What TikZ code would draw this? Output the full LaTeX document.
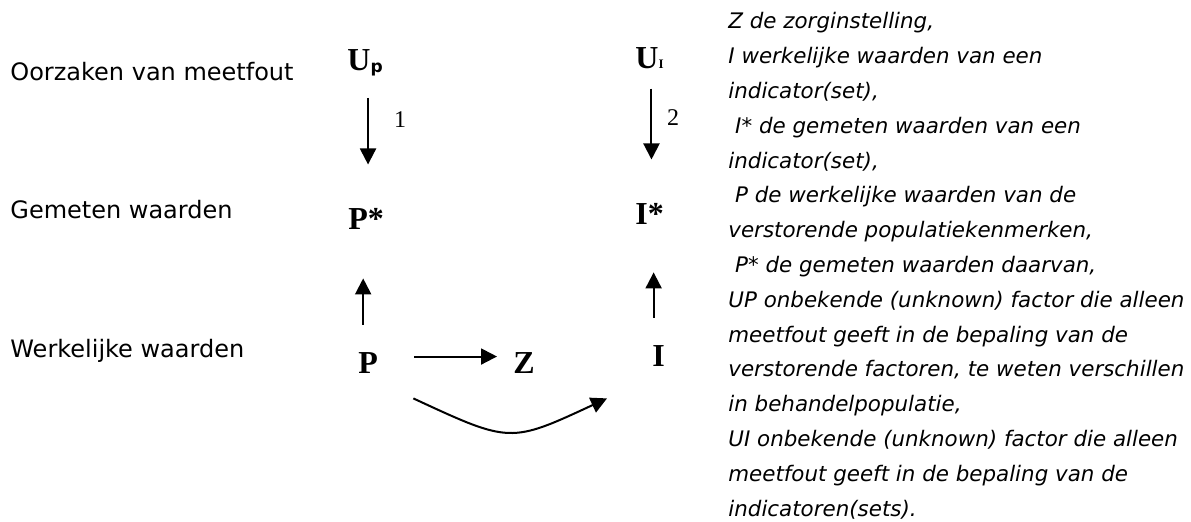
\documentclass[tikz,border=0pt]{standalone}
\usepackage{fontspec}
\setmainfont{Liberation Serif}
\setsansfont{DejaVu Sans}
\usetikzlibrary{arrows.meta}

\tikzset{
    var/.style={font=\fontsize{16}{18}\selectfont\bfseries, inner sep=0pt, anchor=base west},
    rij/.style={font=\sffamily\fontsize{12}{14}\selectfont, inner sep=0pt, anchor=base west},
    nummer/.style={font=\fontsize{12}{14}\selectfont, inner sep=0pt},
    uitleg/.style={font=\sffamily\itshape\fontsize{10.7}{17.4}\selectfont, inner sep=0pt, anchor=base west, align=left},
    pijl/.style={line width=1pt, -{Triangle[width=8pt,length=8pt]}},
}

% kleine indices bij de U's
\newcommand{\idxP}{\raisebox{-1pt}{\sffamily\fontsize{8.5}{9}\selectfont p}}
\newcommand{\idxI}{\fontsize{6.5}{7}\selectfont I}

\begin{document}
\begin{tikzpicture}[x=0.5pt, y=-0.5pt]
    \useasboundingbox (0,0) rectangle (1191,521);

    % rijen
    \node[rij] (oorzaken) at (10,80) {Oorzaken van meetfout};
    \node[rij] (gemeten) at (10,218) {Gemeten waarden};
    \node[rij] (werkelijk) at (10,357) {Werkelijke waarden};

    % variabelen
    \node[var] (Up) at (347,70) {U\idxP};
    \node[var] (Pster) at (348,229) {P*};
    \node[var] (P) at (358,373) {P};
    \node[var] (Z) at (513,373) {Z};
    \node[var] (UI) at (635,68) {U\idxI};
    \node[var] (Ister) at (635,224) {I*};
    \node[var] (I) at (652,366) {I};

    \node[nummer] (een) at (400,120) {1};
    \node[nummer] (twee) at (673,118) {2};

    % pijlen
    \draw[pijl, shorten <=11pt, shorten >=21.5pt] ([xshift=1.5pt]Up.south) -- ([xshift=1.5pt]Up.south |- Pster.north);
    \draw[pijl, shorten <=13.5pt, shorten >=24.5pt] ([xshift=-2.5pt]P.north) -- ([xshift=-2.5pt]P.north |- Pster.south);
    \draw[pijl, shorten <=10pt, shorten >=21.5pt] ([xshift=1pt]UI.south) -- ([xshift=1pt]UI.south |- Ister.north);
    \draw[pijl, shorten <=13.5pt, shorten >=24pt] ([xshift=-2.5pt]I.north) -- ([xshift=-2.5pt]I.north |- Ister.south);
    \draw[pijl, shorten <=18pt, shorten >=8pt] ([yshift=3pt]P.east) -- ([yshift=3pt]P.east -| Z.west);
    \draw[pijl] ([xshift=17.5pt,yshift=-12.5pt]P.south east)
        .. controls +(97,45) and +(-97,45) .. ([xshift=-22.5pt,yshift=-16pt]I.south west);

    % verklaring (basislijn van de laatste regel)
    \node[uitleg] (legenda) at (728,516) {Z de zorginstelling,\\
        I werkelijke waarden van een\\
        indicator(set),\\
        \ I* de gemeten waarden van een\\
        indicator(set),\\
        \ P de werkelijke waarden van de\\
        verstorende populatiekenmerken,\\
        \ P* de gemeten waarden daarvan,\\
        UP onbekende (unknown) factor die alleen\\
        meetfout geeft in de bepaling van de\\
        verstorende factoren, te weten verschillen\\
        in behandelpopulatie,\\
        UI onbekende (unknown) factor die alleen\\
        meetfout geeft in de bepaling van de\\
        indicatoren(sets).};
\end{tikzpicture}
\end{document}
